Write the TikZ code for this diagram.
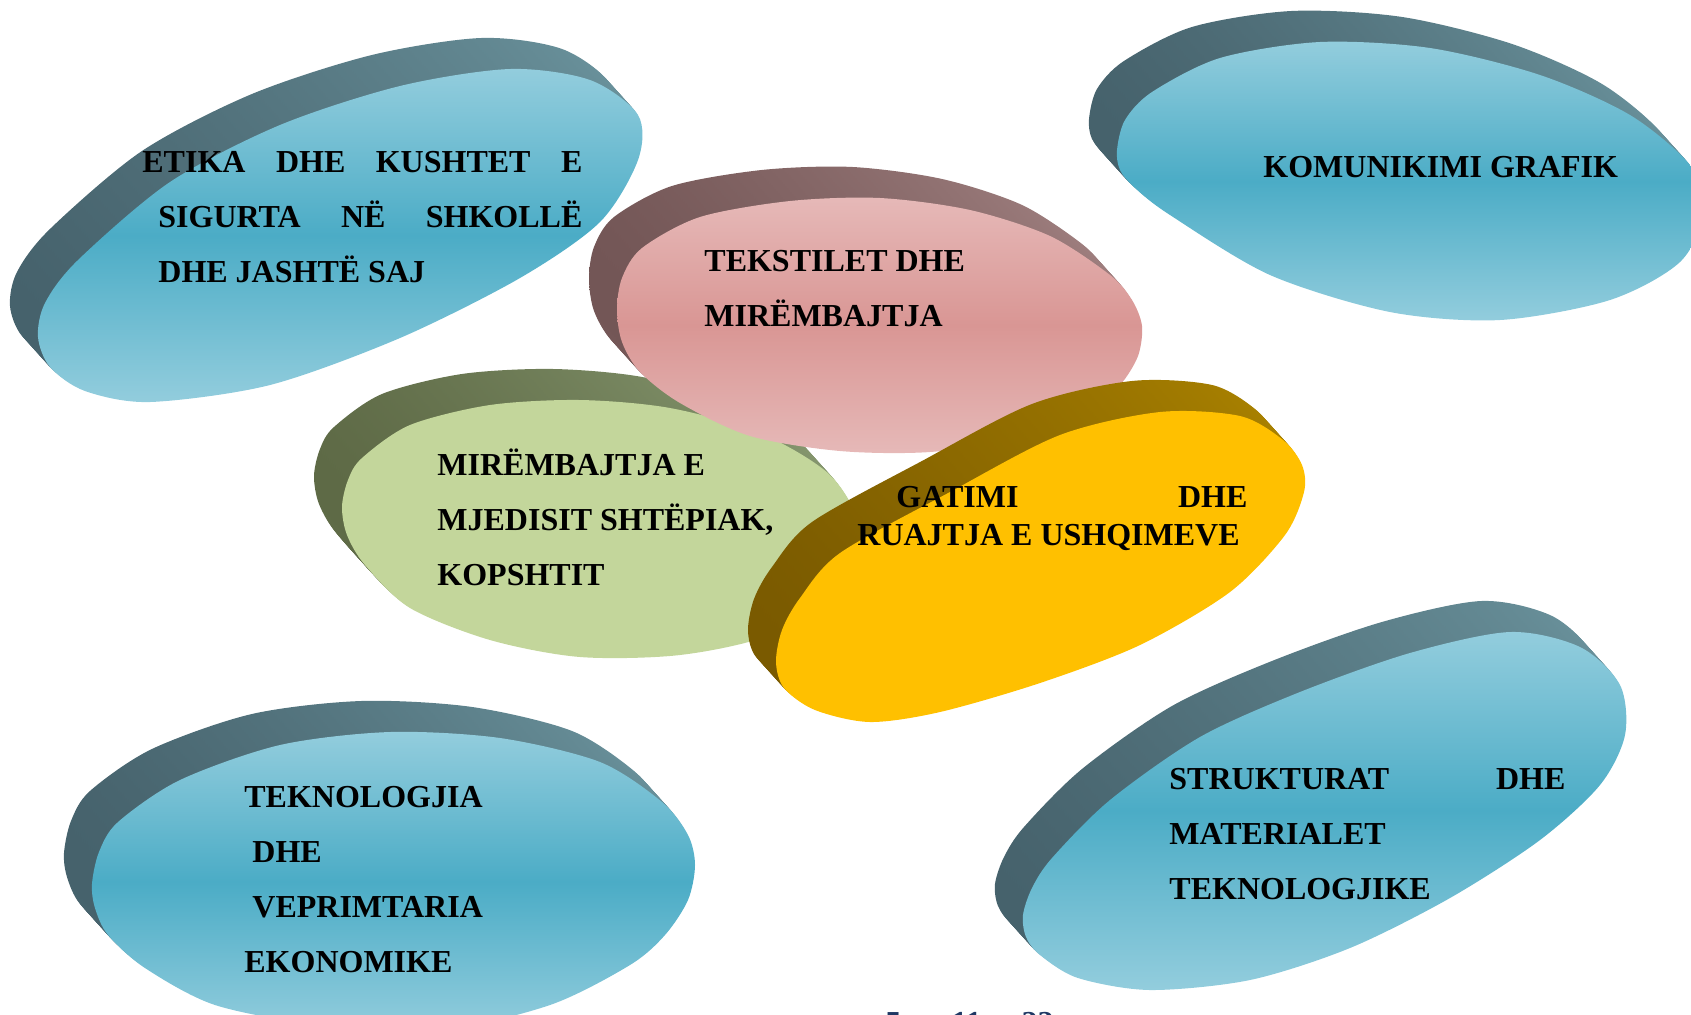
\documentclass[tikz,border=0pt]{standalone}
\usepackage{fontspec}
\setmainfont{Liberation Serif}
\definecolor{bluelt}{HTML}{93CDDD}
\definecolor{bluemd}{HTML}{4BACC6}
\definecolor{bluedk}{HTML}{46626C}
\definecolor{blueside}{HTML}{6A929C}
\definecolor{pinklt}{HTML}{E6B9B8}
\definecolor{pinkmd}{HTML}{D99694}
\definecolor{pinkdk}{HTML}{735656}
\definecolor{pinkside}{HTML}{A08080}
\definecolor{greenface}{HTML}{C3D69B}
\definecolor{greendk}{HTML}{5E6A46}
\definecolor{greenside}{HTML}{879870}
\definecolor{goldface}{HTML}{FFC000}
\definecolor{golddk}{HTML}{7A5A00}
\definecolor{goldside}{HTML}{AA8200}
\definecolor{navy}{HTML}{1F3864}
\tikzset{
	disktext/.style={
		font=\fontsize{16}{27.6}\selectfont\bfseries,
		inner sep=0pt,
		anchor=base west
	}
}
% side of the disc, then its face
\newcommand{\slab}[3]{%
	\foreach \k in {16,...,1}
		\path[#1, shift={(-1.75*\k,-1.94*\k)}] plot[smooth cycle] coordinates {#3};
	\path[#2] plot[smooth cycle] coordinates {#3};
}

\begin{document}
\begin{tikzpicture}[x=0.5pt, y=-0.5pt]
			\tikzstyle{blueedge}=[left color=bluedk, right color=blueside]
			\tikzstyle{blueface}=[top color=bluelt, bottom color=bluelt, middle color=bluemd]
			\tikzstyle{pinkedge}=[left color=pinkdk, right color=pinkside]
			\tikzstyle{pinkface}=[top color=pinklt, bottom color=pinklt, middle color=pinkmd]
			\tikzstyle{greenedge}=[left color=greendk, right color=greenside]
			\tikzstyle{goldedge}=[left color=golddk, right color=goldside]
			\useasboundingbox (0,0) rectangle (1691,1014);
			\clip (0,0) rectangle (1691,1014);

			\slab{blueedge}{blueface}{(38,337) (45,303) (78,260) (170,182) (280,125) (400,86) (510,69) (590,80) (638,115) (638,160) (600,222) (520,278) (400,338) (270,385) (150,402) (85,391) (50,367)}
			\slab{blueedge}{blueface}{(1117,150) (1125,120) (1152,92) (1220,58) (1320,42) (1430,48) (1540,75) (1630,115) (1690,165) (1705,210) (1680,262) (1610,300) (1500,320) (1390,312) (1270,275) (1170,215) (1135,188) (1120,170)}
			\slab{greenedge}{fill=greenface}{(342,507) (348,480) (362,458) (410,425) (490,405) (580,400) (670,408) (760,433) (830,475) (860,530) (840,590) (770,635) (680,655) (580,657) (490,640) (410,608) (365,565) (347,535)}
			\slab{pinkedge}{pinkface}{(617,310) (622,278) (642,248) (700,217) (790,201) (880,198) (970,210) (1050,236) (1110,275) (1132,300) (1142,326) (1138,356) (1120,385) (1090,408) (1020,438) (930,452) (840,451) (750,436) (680,403) (640,372) (622,342)}
			\slab{goldedge}{fill=goldface}{(776,662) (782,630) (800,598) (840,553) (950,492) (1060,435) (1160,412) (1240,416) (1283,440) (1302,465) (1304,492) (1285,535) (1230,592) (1140,645) (1040,683) (940,712) (870,722) (815,710) (784,688)}
			\slab{blueedge}{blueface}{(92,884) (99,852) (118,822) (180,780) (280,745) (390,732) (500,738) (600,762) (662,802) (688,835) (695,865) (688,900) (665,935) (630,965) (550,1005) (440,1030) (320,1025) (215,1005) (145,968) (108,935) (95,908)}
			\slab{blueedge}{blueface}{(1023,915) (1032,888) (1052,858) (1110,800) (1200,737) (1300,692) (1410,653) (1510,632) (1580,647) (1620,685) (1625,735) (1600,785) (1540,840) (1450,898) (1350,948) (1250,980) (1150,990) (1078,978) (1040,955) (1026,937)}

			\node[disktext] (etika) at (142,172) {\begin{tabular}[t]{@{}l@{}}\makebox[220pt][s]{ETIKA DHE KUSHTET E}\\ \hspace*{8pt}\makebox[212pt][s]{SIGURTA NË SHKOLLË}\\ \hspace*{8pt}DHE JASHTË SAJ\end{tabular}};
			\node[disktext] (grafik) at (1263,177) {KOMUNIKIMI GRAFIK};
			\node[disktext] (tekstil) at (704,271) {\begin{tabular}[t]{@{}l@{}}TEKSTILET DHE\\ MIRËMBAJTJA\end{tabular}};
			\node[disktext] (mjedis) at (437,475) {\begin{tabular}[t]{@{}l@{}}MIRËMBAJTJA E\\ MJEDISIT SHTËPIAK,\\ KOPSHTIT\end{tabular}};
			\node[disktext, font=\fontsize{16}{19}\selectfont\bfseries] (gatim) at (857,507) {\begin{tabular}[t]{@{}l@{}}\hspace*{19.5pt}\makebox[175.5pt][s]{GATIMI DHE}\\ RUAJTJA E USHQIMEVE\end{tabular}};
			\node[disktext] (ekonomi) at (244,807) {\begin{tabular}[t]{@{}l@{}}TEKNOLOGJIA\\ \hspace*{4pt}DHE\\ \hspace*{4pt}VEPRIMTARIA\\ EKONOMIKE\end{tabular}};
			\node[disktext] (struktura) at (1169,789) {\begin{tabular}[t]{@{}l@{}}\makebox[198pt][s]{STRUKTURAT DHE}\\ MATERIALET\\ TEKNOLOGJIKE\end{tabular}};
			\node[disktext, text=navy] (faqe) at (885,1033) {5\hspace{25pt}11\hspace{20pt}22};
\end{tikzpicture}
\end{document}
